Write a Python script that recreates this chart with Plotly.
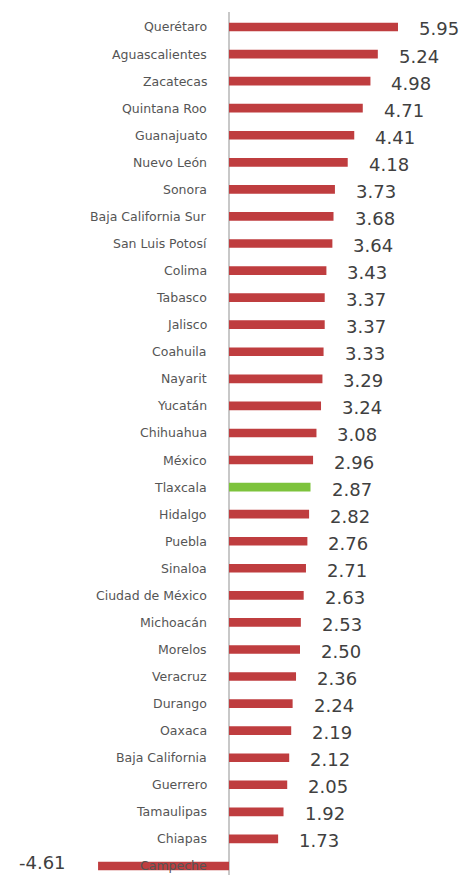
import plotly.graph_objects as go

categories = ["Querétaro", "Aguascalientes", "Zacatecas", "Quintana Roo", "Guanajuato",
              "Nuevo León", "Sonora", "Baja California Sur", "San Luis Potosí", "Colima",
              "Tabasco", "Jalisco", "Coahuila", "Nayarit", "Yucatán", "Chihuahua", "México",
              "Tlaxcala", "Hidalgo", "Puebla", "Sinaloa", "Ciudad de México", "Michoacán",
              "Morelos", "Veracruz", "Durango", "Oaxaca", "Baja California", "Guerrero",
              "Tamaulipas", "Chiapas", "Campeche"]
values = [5.95, 5.24, 4.98, 4.71, 4.41, 4.18, 3.73, 3.68, 3.64, 3.43, 3.37, 3.37, 3.33,
          3.29, 3.24, 3.08, 2.96, 2.87, 2.82, 2.76, 2.71, 2.63, 2.53, 2.50, 2.36, 2.24,
          2.19, 2.12, 2.05, 1.92, 1.73, -4.61]
highlight = "Tlaxcala"

RED = "#bf3d3f"
GREEN = "#7dc33c"
colors = [GREEN if c == highlight else RED for c in categories]

fig = go.Figure()
fig.add_trace(go.Bar(
    x=values, y=categories, orientation="h", width=0.32,
    marker=dict(color=colors, line=dict(width=0)),
    hoverinfo="skip",
))

annotations = []
for c, v in zip(categories, values):
    annotations.append(dict(
        x=0, y=c, xref="x", yref="y", text=c, showarrow=False,
        xanchor="right", yanchor="middle", xshift=-20,
        font=dict(family="DejaVu Sans", size=12.5, color="#555555"),
    ))
    if v >= 0:
        annotations.append(dict(
            x=v, y=c, xref="x", yref="y", text=f"{v:.2f}", showarrow=False,
            xanchor="left", yanchor="middle", xshift=19, yshift=-2,
            font=dict(family="DejaVu Sans", size=18, color="#404040"),
        ))
    else:
        annotations.append(dict(
            x=v, y=c, xref="x", yref="y", text=f"{v:.2f}", showarrow=False,
            xanchor="right", yanchor="middle", xshift=-30, yshift=3,
            font=dict(family="DejaVu Sans", size=18, color="#404040"),
        ))

fig.update_layout(
    width=467, height=875,
    margin=dict(l=0, r=0, t=12, b=0),
    paper_bgcolor="white", plot_bgcolor="white",
    showlegend=False,
    annotations=annotations,
    xaxis=dict(range=[-8.063, 8.380], showgrid=False, showticklabels=False, ticks="",
               zeroline=True, zerolinecolor="#c8c8c8", zerolinewidth=1.5, showline=False,
               fixedrange=True),
    yaxis=dict(type="category", categoryorder="array", categoryarray=categories,
               range=[31.333, -0.554], showgrid=False, showticklabels=False, ticks="",
               zeroline=False, showline=False, fixedrange=True),
)

fig.write_html("out.html", config={"displayModeBar": False},
               post_script="document.body.style.margin='0';document.body.style.overflow='hidden';")
